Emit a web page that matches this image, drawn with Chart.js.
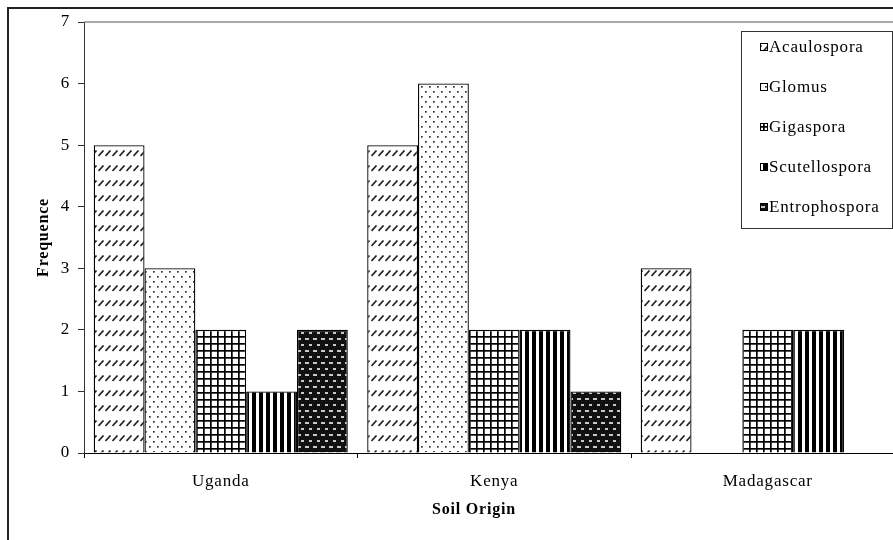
<!DOCTYPE html>
<html><head><meta charset="utf-8">
<script src="https://cdn.jsdelivr.net/npm/chart.js@4.4.1/dist/chart.umd.min.js"></script>
<style>
html,body{margin:0;padding:0;background:#fff;width:893px;height:540px;overflow:hidden;}
#frame{position:absolute;left:7px;top:7px;width:1000px;height:1000px;border:2px solid #222;}
#wrap{position:absolute;left:0;top:0;width:915px;height:540px;}
</style></head><body>
<div id="frame"></div>
<div id="wrap"><canvas id="c" width="915" height="540"></canvas></div>
<script>
// Mycorrhizal genera counted per soil origin
const origins = ['Uganda', 'Kenya', 'Madagascar'];
const genera = ['Acaulospora', 'Glomus', 'Gigaspora', 'Scutellospora', 'Entrophospora'];
const acaulospora = [5, 5, 3];
const glomus = [3, 6, 0];
const gigaspora = [2, 2, 2];
const scutellospora = [1, 2, 2];
const entrophospora = [2, 1, 0];
const yTicks = [0, 1, 2, 3, 4, 5, 6, 7];
const xTitle = 'Soil Origin';
const yTitle = 'Frequence';

const SERIF = '"Liberation Serif", "Times New Roman", serif';
Chart.defaults.font.family = SERIF;
Chart.defaults.font.size = 17;
Chart.defaults.color = '#000';

const canvas = document.getElementById('c');
const ctx0 = canvas.getContext('2d');

function tile(w, h, draw) {
  const c = document.createElement('canvas');
  c.width = w; c.height = h;
  draw(c.getContext('2d'), w, h);
  return ctx0.createPattern(c, 'repeat');
}

// hatch fills, one per genus
const fills = [
  tile(7, 15, (g, w, h) => {            // dashed upward diagonal
    g.fillStyle = '#fff'; g.fillRect(0, 0, w, h);
    g.strokeStyle = '#222'; g.lineWidth = 1.7;
    g.beginPath(); g.moveTo(0.5, 6); g.lineTo(5.5, 0.5); g.stroke();
  }),
  tile(8, 10, (g, w, h) => {            // sparse dots
    g.fillStyle = '#fff'; g.fillRect(0, 0, w, h);
    g.fillStyle = '#333';
    g.fillRect(1, 1, 1.7, 1.7); g.fillRect(5, 6, 1.7, 1.7);
  }),
  tile(7, 7, (g, w, h) => {             // square grid
    g.fillStyle = '#fff'; g.fillRect(0, 0, w, h);
    g.fillStyle = '#000';
    g.fillRect(0, 0, w, 1.7); g.fillRect(0, 0, 1.7, h);
  }),
  tile(7, 2, (g, w, h) => {             // vertical stripes
    g.fillStyle = '#fff'; g.fillRect(0, 0, w, h);
    g.fillStyle = '#000'; g.fillRect(0, 0, 4, h);
  }),
  tile(8, 12, (g, w, h) => {            // dark with light dashes
    g.fillStyle = '#111'; g.fillRect(0, 0, w, h);
    g.fillStyle = '#c8c8c8';
    g.fillRect(1, 2, 4, 2); g.fillRect(5, 8, 4, 2);
  })
];

const seriesValues = [acaulospora, glomus, gigaspora, scutellospora, entrophospora];

const frameAndLegend = {
  id: 'frameAndLegend',
  beforeDraw(chart) {
    chart.ctx.letterSpacing = '0.8px';
  },
  beforeDatasetsDraw(chart) {
    const { ctx, chartArea } = chart;
    ctx.save();
    ctx.strokeStyle = '#8c8c8c';
    ctx.lineWidth = 1.5;
    ctx.beginPath();
    ctx.moveTo(chartArea.left, chartArea.top);
    ctx.lineTo(chartArea.right, chartArea.top);
    ctx.stroke();
    ctx.restore();
  },
  afterDraw(chart) {
    const { ctx } = chart;
    ctx.save();
    ctx.letterSpacing = '0.8px';
    // axis title under the categories
    ctx.font = 'bold 16px ' + SERIF;
    ctx.fillStyle = '#000';
    ctx.textAlign = 'center';
    ctx.textBaseline = 'middle';
    ctx.fillText(xTitle, 474, 510);

    // legend box
    ctx.fillStyle = '#fff';
    ctx.fillRect(741.5, 31.5, 151, 197);
    ctx.strokeStyle = '#333';
    ctx.lineWidth = 1;
    ctx.strokeRect(741.5, 31.5, 151, 197);
    ctx.font = '17px ' + SERIF;
    ctx.textAlign = 'left';
    chart.data.datasets.forEach((ds, i) => {
      const y = 47 + i * 40;
      ctx.fillStyle = ds.backgroundColor;
      ctx.fillRect(760, y - 4, 8, 8);
      ctx.strokeStyle = '#000';
      ctx.strokeRect(760.5, y - 3.5, 7, 7);
      ctx.fillStyle = '#000';
      ctx.fillText(ds.label, 769, y + 1);
    });
    ctx.restore();
  }
};

new Chart(canvas, {
  type: 'bar',
  data: {
    labels: origins,
    datasets: genera.map((name, i) => ({
      label: name,
      data: seriesValues[i],
      backgroundColor: fills[i],
      borderColor: '#000',
      borderWidth: 1.3,
      categoryPercentage: 0.929,
      barPercentage: 1
    }))
  },
  options: {
    responsive: false,
    animation: false,
    devicePixelRatio: 1,
    layout: { padding: { top: 22, right: 10.5, bottom: 7, left: 0 } },
    plugins: { legend: { display: false }, tooltip: { enabled: false } },
    scales: {
      x: {
        offset: true,
        grid: { display: true, drawOnChartArea: false, tickLength: 5, offset: true, color: '#000' },
        border: { color: '#000', width: 1 },
        ticks: { padding: 13, color: '#000' },
        title: { display: false },
        afterFit(s) { s.height = 80; }
      },
      y: {
        min: 0, max: 7,
        afterBuildTicks(s) { s.ticks = yTicks.map(v => ({ value: v })); },
        grid: { display: true, drawOnChartArea: false, tickLength: 6, color: '#333' },
        border: { color: '#333', width: 1 },
        ticks: { padding: 8, color: '#000' },
        title: { display: true, text: yTitle, font: { weight: 'bold', size: 16 }, padding: { top: 34, bottom: 0 } },
        afterFit(s) { s.width = 84; }
      }
    }
  },
  plugins: [frameAndLegend]
});
</script>
</body></html>
